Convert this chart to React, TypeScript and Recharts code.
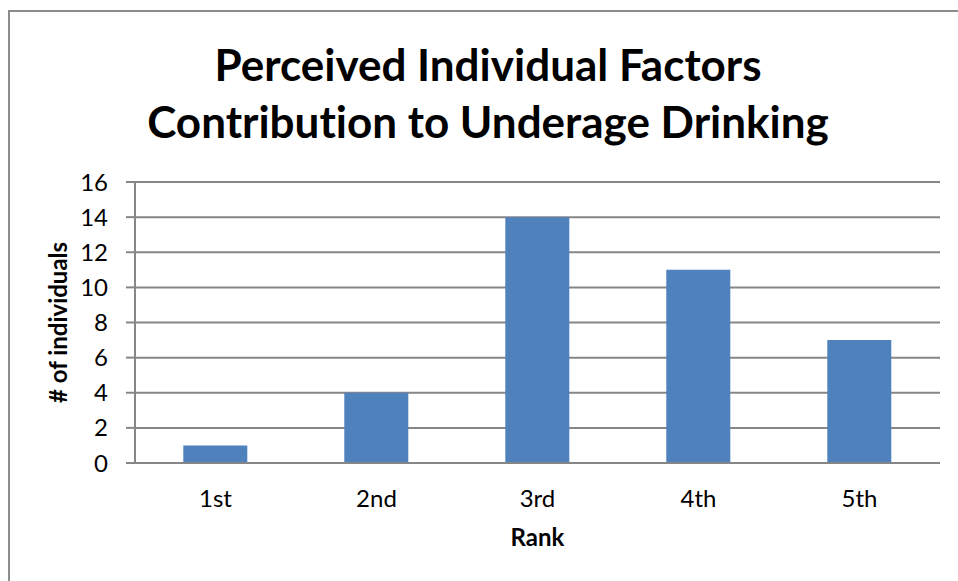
import React from "react";
import { BarChart, Bar, XAxis, YAxis, CartesianGrid, Label } from "recharts";

const ranks = ["1st", "2nd", "3rd", "4th", "5th"];
const individuals = [1, 4, 14, 11, 7];
const yTicks = [0, 2, 4, 6, 8, 10, 12, 14, 16];

const data = ranks.map((rank, i) => ({ rank, value: individuals[i] }));

const FONT = "Lato, 'Liberation Sans', sans-serif";
const GRID = "#868686";

export default function App() {
  return (
    <div
      style={{
        position: "absolute",
        left: 0,
        top: 0,
        width: 958,
        height: 581,
        background: "#fff",
        fontFamily: FONT,
        fontVariantLigatures: "none",
        overflow: "hidden",
      }}
    >
      {/* chart frame: right and bottom edges fall outside the crop */}
      <div
        style={{
          position: "absolute",
          left: 8,
          top: 10,
          width: 960,
          height: 600,
          borderLeft: "2px solid #8c8c8c",
          borderTop: "2px solid #8c8c8c",
        }}
      />
      <div
        style={{
          position: "absolute",
          left: 0,
          width: 976,
          top: 36,
          textAlign: "center",
          fontWeight: 700,
          fontSize: 44,
          lineHeight: "57px",
          color: "#000",
        }}
      >
        Perceived Individual Factors
        <br />
        Contribution to Underage Drinking
      </div>
      <div style={{ position: "absolute", left: 0, top: 0 }}>
        <BarChart
          width={958}
          height={581}
          data={data}
          margin={{ top: 182, right: 18, bottom: 0, left: 0 }}
          barCategoryGap="30%"
          style={{ fontVariantLigatures: "none" }}
        >
          <CartesianGrid vertical={false} stroke={GRID} strokeWidth={2} />
          <XAxis
            dataKey="rank"
            height={118}
            tickLine={false}
            tickSize={0}
            tickMargin={27}
            axisLine={{ stroke: GRID, strokeWidth: 2 }}
            tick={{ fill: "#000", fontSize: 24, fontFamily: FONT }}
          >
            <Label
              value="Rank"
              position="insideBottom"
              offset={35}
              fill="#000"
              fontSize={24}
              fontWeight={700}
              fontFamily={FONT}
            />
          </XAxis>
          <YAxis
            width={135}
            domain={[0, 16]}
            ticks={yTicks}
            interval={0}
            tickSize={9}
            tickMargin={18}
            tickLine={{ stroke: GRID, strokeWidth: 2 }}
            axisLine={{ stroke: GRID, strokeWidth: 2 }}
            tick={{ fill: "#000", fontSize: 24, fontFamily: FONT }}
          >
            <Label
              value="# of individuals"
              angle={-90}
              position="insideLeft"
              offset={58}
              style={{ textAnchor: "middle" }}
              fill="#000"
              fontSize={24}
              fontWeight={700}
              fontFamily={FONT}
            />
          </YAxis>
          <Bar dataKey="value" fill="#4F81BD" isAnimationActive={false} />
        </BarChart>
      </div>
    </div>
  );
}
